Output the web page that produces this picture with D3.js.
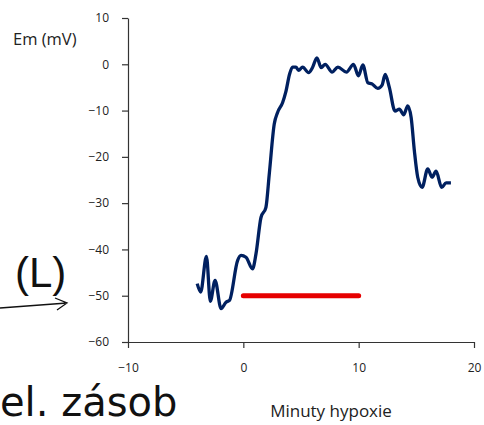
<!DOCTYPE html>
<html>
<head>
<meta charset="utf-8">
<script src="https://cdn.jsdelivr.net/npm/d3@7"></script>
<style>
  body { margin: 0; background: #fff; }
  .axis text { font-family: 'Open Sans', sans-serif; font-size: 12px; fill: #222; }
  .axis path, .axis line { stroke: #333; stroke-width: 1.2; }
</style>
</head>
<body>
<div id="chart-area"></div>
<script>
// Trace data
const minutes = [-4.0, -3.7, -3.2, -2.86, -2.45, -1.93, -1.5, -1.2, -0.5, -0.2, 0.23, 0.8,
  1.1, 1.53, 1.96, 2.25, 2.68, 2.97, 3.4, 3.7, 4.0, 4.27, 4.56, 4.79, 5.14, 5.66, 6.0,
  6.38, 6.75, 7.1, 7.7, 8.2, 8.94, 9.55, 9.98, 10.36, 10.8, 11.13, 11.65, 12.03, 12.3,
  12.66, 13.15, 13.53, 13.91, 14.25, 14.55, 14.83, 15.12, 15.5, 15.99, 16.36, 16.71,
  17.2, 17.58, 18.0];
const em = [-47.4, -49.2, -41.5, -51.2, -46.7, -52.8, -51.4, -51.0, -42.4, -41.3, -41.7, -44.2,
  -40.9, -33.1, -30.9, -23.7, -12.9, -10.4, -8.3, -5.8, -2.2, -0.6, -0.6, -1.3, -0.6, -1.8, -0.7,
  1.4, -0.7, 0, -1.7, -0.6, -1.7, 0, -2.5, -0.15, -4.0, -4.2, -5.2, -4.5, -2.2,
  -5.0, -10.1, -9.7, -10.9, -9.0, -11.5, -18.7, -24.4, -26.6, -22.6, -24.4, -23.1,
  -26.6, -25.6, -25.6];

// Hypoxia period bar
const hypoxiaX = [0, 10];
const hypoxiaY = -50;

const xTicks = [-10, 0, 10, 20];
const yTicks = [10, 0, -10, -20, -30, -40, -50, -60];

const W = 484, H = 425;
const svg = d3.select("#chart-area").append("svg")
  .attr("width", W)
  .attr("height", H);

const x = d3.scaleLinear().domain([-10, 20]).range([128, 474]);
const y = d3.scaleLinear().domain([-60, 10]).range([342, 18]);

// axes
svg.append("g")
  .attr("class", "axis")
  .attr("transform", `translate(0, ${y(-60)})`)
  .call(d3.axisBottom(x).tickValues(xTicks).tickSize(6).tickSizeOuter(0).tickPadding(15));

svg.append("g")
  .attr("class", "axis")
  .attr("transform", `translate(${x(-10)}, 0)`)
  .call(d3.axisLeft(y).tickValues(yTicks).tickSize(6).tickSizeOuter(0).tickPadding(13));

// red bar
svg.append("line")
  .attr("x1", x(hypoxiaX[0]))
  .attr("x2", x(hypoxiaX[1]))
  .attr("y1", y(hypoxiaY))
  .attr("y2", y(hypoxiaY))
  .attr("stroke", "#e60000")
  .attr("stroke-width", 5)
  .attr("stroke-linecap", "round");

// membrane potential trace
const line = d3.line()
  .x((d, i) => x(minutes[i]))
  .y(d => y(d))
  .curve(d3.curveMonotoneX);

svg.append("path")
  .datum(em)
  .attr("d", line)
  .attr("fill", "none")
  .attr("stroke", "#002060")
  .attr("stroke-width", 3.3)
  .attr("stroke-linejoin", "round");

// axis titles
svg.append("text")
  .attr("x", 13)
  .attr("y", 45)
  .style("font-family", "'Open Sans', sans-serif")
  .style("font-size", "16.5px")
  .style("fill", "#222")
  .text("Em (mV)");

svg.append("text")
  .attr("x", 331)
  .attr("y", 417)
  .attr("text-anchor", "middle")
  .style("font-family", "'Open Sans', sans-serif")
  .style("font-size", "17px")
  .style("fill", "#222")
  .text("Minuty hypoxie");

// slide overlay text
svg.append("text")
  .attr("x", 15)
  .attr("y", 287)
  .style("font-family", "'Liberation Sans', sans-serif")
  .style("font-size", "42px")
  .style("fill", "#111")
  .text("(L)");

svg.append("text")
  .attr("x", 0)
  .attr("y", 416)
  .style("font-family", "'DejaVu Sans', sans-serif")
  .style("font-size", "40px")
  .style("fill", "#111")
  .text("el. zásob");

// arrow
svg.append("path")
  .attr("d", "M0,308 L67,303 M55,298 L67,303 L57,310")
  .attr("fill", "none")
  .attr("stroke", "#111")
  .attr("stroke-width", 1.3);
</script>
</body>
</html>
